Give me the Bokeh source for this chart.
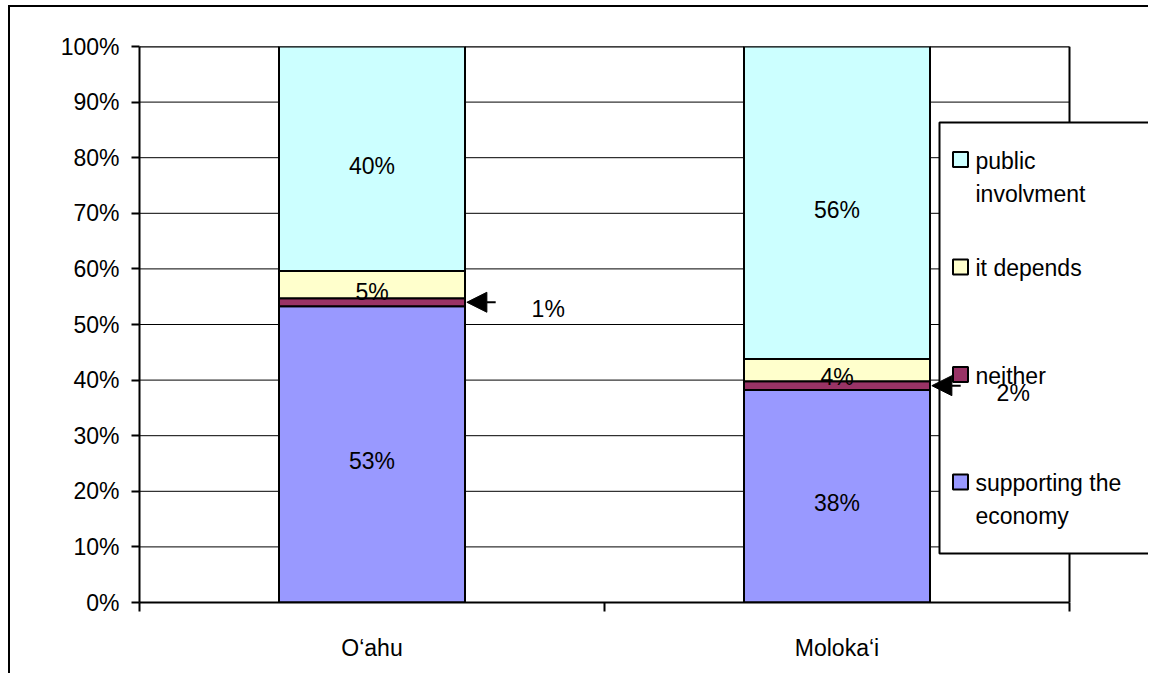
from bokeh.plotting import figure
from bokeh.models import (Range1d, FixedTicker, NumeralTickFormatter,
                          Arrow, NormalHead, ColumnDataSource, Label)
from bokeh.core.properties import value
from bokeh.embed import file_html
from bokeh.resources import INLINE

categories = ["O\u2018ahu", "Moloka\u2018i"]
series_keys = ["supporting", "neither", "depends", "public"]
series_names = [["supporting the", "economy"], ["neither"], ["it depends"], ["public", "involvment"]]
supporting = [53.3, 38.2]
neither = [1.4, 1.6]
depends = [4.9, 4.0]
public = [40.4, 56.2]
colors = ["#9999FF", "#993366", "#FFFFCC", "#CCFFFF"]
y_ticks = [0, 10, 20, 30, 40, 50, 60, 70, 80, 90, 100]

FONT = "Liberation Sans"
FS = "23px"
BAR_W = 0.4
N = len(categories)

# layout (page pixels)
X0_PX, X1_PX = 139, 1069     # category area left/right
Y0_PX, Y1_PX = 602, 46       # 0% and 100%
FRAME_RIGHT_PX = 1150        # frame extends under the legend
PX_PER_X = (X1_PX - X0_PX) / N
PX_PER_Y = (Y0_PX - Y1_PX)
X_END = (FRAME_RIGHT_PX - X0_PX) / PX_PER_X


def dx(px):
    return (px - X0_PX) / PX_PER_X


def dy(py):
    return (Y0_PX - py) / PX_PER_Y


xs = [0.5 + i for i in range(N)]
values = {"supporting": supporting, "neither": neither, "depends": depends, "public": public}
src = ColumnDataSource(dict(x=xs, **{k: [v / 100 for v in values[k]] for k in series_keys}))

p = figure(width=1140, height=668, output_backend="svg", toolbar_location=None,
           x_range=Range1d(0, X_END), y_range=Range1d(0, 1),
           min_border_left=129, min_border_right=0, min_border_top=39, min_border_bottom=73,
           background_fill_color="white", border_fill_color="white")
p.styles = {"border-left": "2px solid black", "border-top": "2px solid black",
            "margin-left": "8px", "margin-top": "5px"}

p.outline_line_color = None
p.xgrid.visible = False
p.ygrid.visible = False

# horizontal grid lines and right border over the category area only
gy = [t / 100 for t in y_ticks]
p.segment(x0=[0] * len(gy), x1=[N] * len(gy), y0=gy, y1=gy,
          line_color="black", line_width=1, level="underlay")
p.segment(x0=[0], x1=[N], y0=[1], y1=[1], line_color="black", line_width=2, level="underlay")
p.segment(x0=[N], x1=[N], y0=[0], y1=[1], line_color="black", line_width=2, level="underlay")

# y axis
p.yaxis.ticker = FixedTicker(ticks=gy)
p.yaxis.formatter = NumeralTickFormatter(format="0%")
p.yaxis.major_label_text_font = FONT
p.yaxis.major_label_text_font_size = FS
p.yaxis.major_label_text_color = "black"
p.yaxis.axis_line_color = "black"
p.yaxis.axis_line_width = 2
p.yaxis.major_tick_line_color = "black"
p.yaxis.major_tick_line_width = 2
p.yaxis.major_tick_out = 8
p.yaxis.major_tick_in = 0
p.yaxis.minor_tick_line_color = None
p.yaxis.major_label_standoff = 12

# x axis
p.xaxis.bounds = (0, N)
p.xaxis.ticker = FixedTicker(ticks=xs, minor_ticks=[float(i) for i in range(N + 1)])
p.xaxis.major_label_overrides = {x: c for x, c in zip(xs, categories)}
p.xaxis.major_label_text_font = FONT
p.xaxis.major_label_text_font_size = FS
p.xaxis.major_label_text_color = "black"
p.xaxis.axis_line_color = "black"
p.xaxis.axis_line_width = 2
p.xaxis.major_tick_line_color = None
p.xaxis.major_tick_out = 0
p.xaxis.major_tick_in = 0
p.xaxis.minor_tick_line_color = "black"
p.xaxis.minor_tick_line_width = 2
p.xaxis.minor_tick_out = 9
p.xaxis.minor_tick_in = 0
p.xaxis.major_label_standoff = 23

p.vbar_stack(series_keys, x="x", width=BAR_W, source=src,
             fill_color=colors, line_color="black", line_width=2)

# in-bar data labels
lx, ly, lt = [], [], []
side = []
for i, xc in enumerate(xs):
    base = 0.0
    for k in series_keys:
        v = values[k][i]
        center = (base + v / 2) / 100
        txt = f"{round(v)}%"
        if k == "neither":
            side.append((xc, center, txt))
        else:
            lx.append(xc)
            ly.append(center)
            lt.append(txt)
        base += v

p.text(x=lx, y=ly, text=lt, text_align="center", text_baseline="middle",
       text_font=value(FONT), text_font_size=FS, text_color="black", y_offset=7)

# legend (drawn by hand so the callout arrow can sit on top of it)
LEG_L, LEG_R, LEG_T, LEG_B = 939, 1149, 122, 553
p.quad(left=[dx(LEG_L)], right=[dx(LEG_R)], top=[dy(LEG_T)], bottom=[dy(LEG_B)],
       fill_color="white", line_color="black", line_width=2)
row_y = [159 + 107.5 * j for j in range(len(series_keys))]
order = list(reversed(range(len(series_keys))))
mx, my, mc = [], [], []
tx, ty, tt = [], [], []
for j, s in enumerate(order):
    mx.append(dx(960))
    my.append(dy(row_y[j]))
    mc.append(colors[s])
    for li, line in enumerate(series_names[s]):
        tx.append(dx(975))
        ty.append(dy(row_y[j] + 1 + 33 * li))
        tt.append(line)
p.scatter(x=mx, y=my, marker="square", size=15, fill_color=mc, line_color="black", line_width=2)
p.text(x=tx, y=ty, text=tt, text_align="left", text_baseline="middle",
       text_font=value(FONT), text_font_size=FS, text_color="black")

# call-outs for the thin segments
for xc, center, txt in side:
    tip = xc + BAR_W / 2 + 0.004
    p.add_layout(Arrow(end=NormalHead(size=20, fill_color="black", line_color="black"),
                       x_start=tip + 0.062, y_start=center, x_end=tip, y_end=center,
                       line_color="black", line_width=2))
    p.add_layout(Label(x=tip + 0.175, y=center, text=txt, text_align="center",
                       text_baseline="middle", text_font=FONT, text_font_size=FS,
                       text_color="black", y_offset=-7))

open("out.html", "w").write(file_html(p, INLINE))
